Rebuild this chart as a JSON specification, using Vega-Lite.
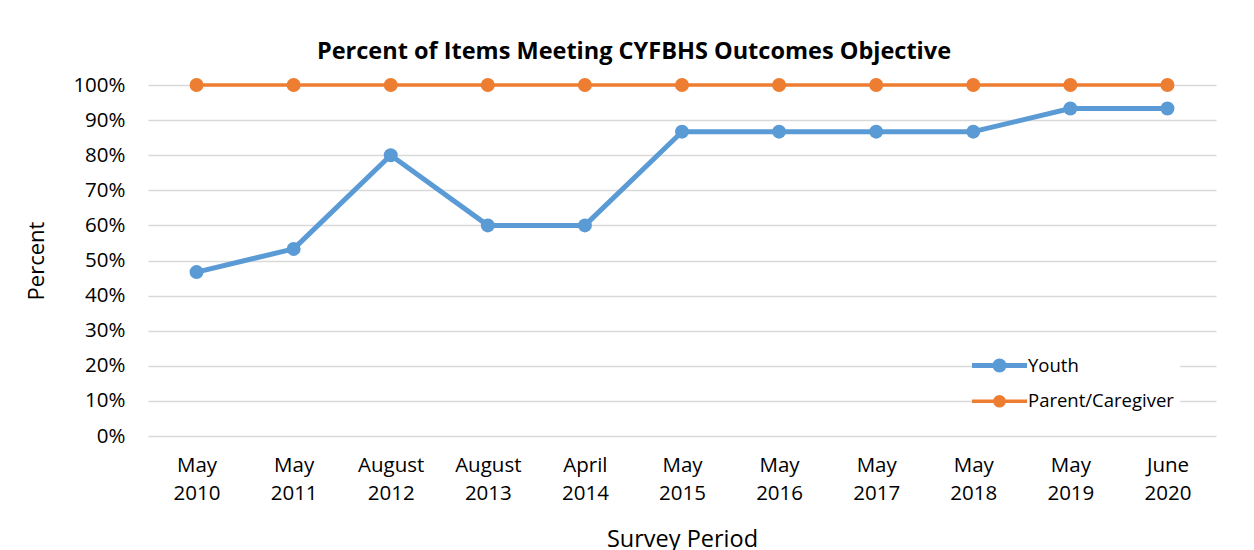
{
  "$schema": "https://vega.github.io/schema/vega-lite/v6.json",
  "autosize": {"type": "none"},
  "width": 1068,
  "height": 351,
  "padding": {"left": 148, "top": 85, "right": 38, "bottom": 114},
  "background": "white",
  "title": {
    "text": "Percent of Items Meeting CYFBHS Outcomes Objective",
    "font": "Open Sans",
    "fontSize": 23.5,
    "fontWeight": "bold",
    "color": "#000000",
    "anchor": "middle",
    "dx": -48,
    "offset": 12
  },
  "data": {
    "values": [
      {"period": "May 2010", "series": "Youth", "value": 46.7},
      {"period": "May 2011", "series": "Youth", "value": 53.3},
      {"period": "August 2012", "series": "Youth", "value": 80},
      {"period": "August 2013", "series": "Youth", "value": 60},
      {"period": "April 2014", "series": "Youth", "value": 60},
      {"period": "May 2015", "series": "Youth", "value": 86.7},
      {"period": "May 2016", "series": "Youth", "value": 86.7},
      {"period": "May 2017", "series": "Youth", "value": 86.7},
      {"period": "May 2018", "series": "Youth", "value": 86.7},
      {"period": "May 2019", "series": "Youth", "value": 93.3},
      {"period": "June 2020", "series": "Youth", "value": 93.3},
      {"period": "May 2010", "series": "Parent/Caregiver", "value": 100},
      {"period": "May 2011", "series": "Parent/Caregiver", "value": 100},
      {"period": "August 2012", "series": "Parent/Caregiver", "value": 100},
      {"period": "August 2013", "series": "Parent/Caregiver", "value": 100},
      {"period": "April 2014", "series": "Parent/Caregiver", "value": 100},
      {"period": "May 2015", "series": "Parent/Caregiver", "value": 100},
      {"period": "May 2016", "series": "Parent/Caregiver", "value": 100},
      {"period": "May 2017", "series": "Parent/Caregiver", "value": 100},
      {"period": "May 2018", "series": "Parent/Caregiver", "value": 100},
      {"period": "May 2019", "series": "Parent/Caregiver", "value": 100},
      {"period": "June 2020", "series": "Parent/Caregiver", "value": 100}
    ]
  },
  "encoding": {
    "x": {
      "field": "period",
      "type": "ordinal",
      "sort": ["May 2010", "May 2011", "August 2012", "August 2013", "April 2014", "May 2015", "May 2016", "May 2017", "May 2018", "May 2019", "June 2020"],
      "scale": {"type": "point", "padding": 0.5},
      "axis": {
        "title": "Survey Period",
        "titleFontSize": 23.5,
        "labelAngle": 0,
        "labelExpr": "split(datum.label, ' ')",
        "labelLineHeight": 28,
        "labelPadding": 19,
        "labelBaseline": "top",
        "titlePadding": 24,
        "grid": false,
        "ticks": false,
        "domain": false
      }
    },
    "y": {
      "field": "value",
      "type": "quantitative",
      "scale": {"domain": [0, 100], "nice": false},
      "axis": {
        "title": "Percent",
        "values": [0, 10, 20, 30, 40, 50, 60, 70, 80, 90, 100],
        "labelExpr": "datum.value + '%'",
        "labelPadding": 23,
        "titlePadding": 24,
        "grid": true,
        "gridColor": "#d9d9d9",
        "gridWidth": 1.5,
        "ticks": false,
        "domain": false
      }
    },
    "color": {
      "field": "series",
      "type": "nominal",
      "scale": {"domain": ["Youth", "Parent/Caregiver"], "range": ["#5B9BD5", "#ED7D31"]},
      "legend": {
        "title": null,
        "orient": "none",
        "legendX": 836,
        "legendY": 265,
        "symbolType": "M-3.93,0L3.93,0M-0.65,0A0.65,0.65,0,1,1,0.65,0A0.65,0.65,0,1,1,-0.65,0",
        "symbolSize": 196,
        "symbolStrokeWidth": 4,
        "labelOffset": 19,
        "rowPadding": 8,
        "padding": 6,
        "fillColor": "white",
        "labelFont": "Open Sans",
        "labelFontSize": 18.5,
        "labelColor": "#000000",
        "encode": {
          "symbols": {
            "update": {
              "fill": {"scale": "color", "field": "value"},
              "fillOpacity": {"value": 1},
              "opacity": {"value": 1}
            }
          }
        }
      }
    }
  },
  "layer": [
    {
      "mark": {"type": "line", "strokeCap": "round", "strokeJoin": "round"},
      "encoding": {
        "strokeWidth": {
          "field": "series",
          "type": "nominal",
          "scale": {"domain": ["Youth", "Parent/Caregiver"], "range": [5, 3.5]},
          "legend": null
        }
      }
    },
    {
      "mark": {"type": "circle", "size": 195, "opacity": 1}
    }
  ],
  "config": {
    "font": "Open Sans",
    "axis": {
      "labelFont": "Open Sans",
      "labelFontSize": 20.5,
      "labelColor": "#000000",
      "titleFont": "Open Sans",
      "titleFontSize": 22,
      "titleFontWeight": "normal",
      "titleColor": "#000000"
    },
    "view": {"stroke": null}
  }
}
